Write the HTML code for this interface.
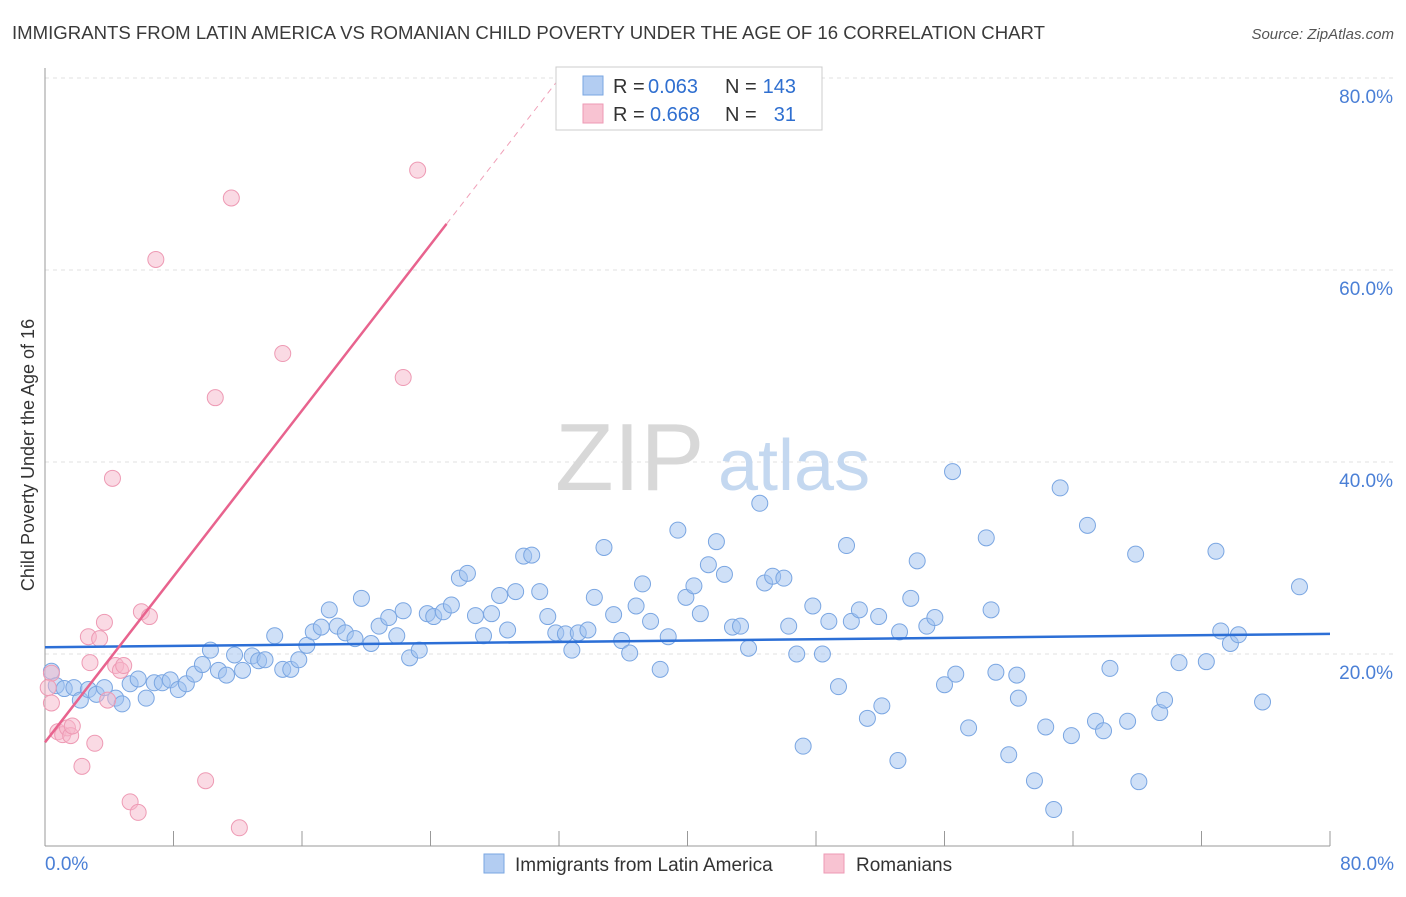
<!DOCTYPE html>
<html><head><meta charset="utf-8"><style>
body{margin:0;background:#fff;font-family:"Liberation Sans",sans-serif}
svg text{font-family:"Liberation Sans",sans-serif}
</style></head><body>
<svg id="chart" width="1406" height="892" xmlns="http://www.w3.org/2000/svg">
<text x="12" y="39" font-size="18" fill="#3a3a3a" textLength="1033" lengthAdjust="spacingAndGlyphs">IMMIGRANTS FROM LATIN AMERICA VS ROMANIAN CHILD POVERTY UNDER THE AGE OF 16 CORRELATION CHART</text>
<text x="1394" y="39" font-size="15" fill="#555" text-anchor="end" font-style="italic">Source: ZipAtlas.com</text>
<g id="grid"></g>
<g><text x="555" y="490" font-size="96" fill="#d8d8d8" font-family="Liberation Serif">ZIP</text><text x="718" y="490" font-size="72" fill="#c4d8f0">atlas</text></g>
<g id="axes"></g>
<g id="pts"></g>
<g id="trend"></g>
<text transform="translate(34,455) rotate(-90)" font-size="18" fill="#333" text-anchor="middle">Child Poverty Under the Age of 16</text>
<g>
<rect x="556" y="67" width="266" height="63" fill="#fff" stroke="#ccc"/>
<rect x="583" y="76" width="20" height="19" fill="#b3cdf2" stroke="#7aa6e2"/>
<rect x="583" y="104" width="20" height="19" fill="#f8c3d2" stroke="#ee9ab4"/>
<text x="613" y="93" font-size="20" fill="#333">R =</text>
<text x="648" y="93" font-size="20" fill="#2f6fd0">0.063</text>
<text x="725" y="93" font-size="20" fill="#333">N =</text>
<text x="796" y="93" font-size="20" fill="#2f6fd0" text-anchor="end">143</text>
<text x="613" y="121" font-size="20" fill="#333">R =</text>
<text x="650" y="121" font-size="20" fill="#2f6fd0">0.668</text>
<text x="725" y="121" font-size="20" fill="#333">N =</text>
<text x="796" y="121" font-size="20" fill="#2f6fd0" text-anchor="end">31</text>
</g>
<g>
<rect x="484" y="854" width="20" height="19" fill="#b3cdf2" stroke="#7aa6e2"/>
<text x="515" y="871" font-size="19" fill="#333">Immigrants from Latin America</text>
<rect x="824" y="854" width="20" height="19" fill="#f8c3d2" stroke="#ee9ab4"/>
<text x="856" y="871" font-size="19" fill="#333">Romanians</text>
</g>
</svg>
<script>
const blueX=[0.4,0.7,1.2,1.8,2.2,2.7,3.2,3.7,4.4,4.8,5.3,5.8,6.3,6.8,7.3,7.8,8.3,8.8,9.3,9.8,10.3,10.8,11.3,11.8,12.3,12.9,13.3,13.7,14.3,14.8,15.3,15.8,16.3,16.7,17.2,17.7,18.2,18.7,19.3,19.7,20.3,20.8,21.4,21.9,22.3,22.7,23.3,23.8,24.2,24.8,25.3,25.8,26.3,26.8,27.3,27.8,28.3,28.8,29.3,29.8,30.3,30.8,31.3,31.8,32.4,32.8,33.2,33.8,34.2,34.8,35.4,35.9,36.4,36.8,37.2,37.7,38.3,38.8,39.4,39.9,40.4,40.8,41.3,41.8,42.3,42.8,43.3,43.8,44.5,44.8,45.3,46.0,46.3,46.8,47.2,47.8,48.4,48.8,49.4,49.9,50.2,50.7,51.2,51.9,52.1,53.1,53.2,53.9,54.3,54.9,55.4,56.0,56.5,56.7,57.5,58.6,58.9,59.2,60.0,60.5,60.6,61.6,62.3,62.8,63.2,63.9,64.9,65.4,65.9,66.3,67.4,67.9,68.1,69.4,69.7,70.6,72.3,72.9,73.2,73.8,74.3,75.8,78.1];
const blueY=[18.2,16.7,16.4,16.5,15.2,16.3,15.8,16.5,15.4,14.8,16.9,17.4,15.4,17.0,17.0,17.3,16.3,16.9,17.9,18.9,20.4,18.3,17.8,19.9,18.3,19.8,19.3,19.4,21.9,18.4,18.4,19.4,20.9,22.3,22.8,24.6,22.9,22.2,21.6,25.8,21.1,22.9,23.8,21.9,24.5,19.6,20.4,24.2,23.9,24.4,25.1,27.9,28.4,24.0,21.9,24.2,26.1,22.5,26.5,30.2,30.3,26.5,23.9,22.2,22.1,20.4,22.2,22.5,25.9,31.1,24.1,21.4,20.1,25.0,27.3,23.4,18.4,21.8,32.9,25.9,27.1,24.2,29.3,31.7,28.3,22.8,22.9,20.6,35.7,27.4,28.1,27.9,22.9,20.0,10.4,25.0,20.0,23.4,16.6,31.3,23.4,24.6,13.3,23.9,14.6,8.9,22.3,25.8,29.7,22.9,23.8,16.8,39.0,17.9,12.3,32.1,24.6,18.1,9.5,17.8,15.4,6.8,12.4,3.8,37.3,11.5,33.4,13.0,12.0,18.5,13.0,30.4,6.7,13.9,15.2,19.1,19.2,30.7,22.4,21.1,22.0,15.0,27.0];
const pinkX=[0.4,0.2,0.4,0.8,1.1,1.4,1.6,1.7,2.3,2.7,2.8,3.1,3.4,3.7,3.9,4.2,4.4,4.7,4.9,5.3,5.8,6.0,6.5,6.9,10.0,10.6,11.6,12.1,14.8,22.3,23.2];
const pinkY=[18.0,16.5,14.9,11.9,11.6,12.3,11.5,12.5,8.3,21.8,19.1,10.7,21.6,23.3,15.2,38.3,18.8,18.3,18.8,4.6,3.5,24.4,23.9,61.1,6.8,46.7,67.5,1.9,51.3,48.8,70.4];
const blueTrend=[20.7,22.1];
const pinkTrend=[10.8,2.16];
const yTicks=[20,40,60,80];
const xTickLabels=["0.0%","80.0%"];

const X=v=>45+v*1285/80, Y=v=>846-v*9.6;
const NS="http://www.w3.org/2000/svg";
function mk(tag,attrs,parent){const e=document.createElementNS(NS,tag);for(const k in attrs)e.setAttribute(k,attrs[k]);parent.appendChild(e);return e;}
const grid=document.getElementById('grid'),axes=document.getElementById('axes'),pts=document.getElementById('pts'),tr=document.getElementById('trend');
yTicks.forEach(t=>{
 const l=mk('line',{x1:45,x2:1394,y1:Y(t),y2:Y(t),stroke:'#e2e2e2','stroke-dasharray':'4,4'},grid);
 
 
 const tx=mk('text',{x:1393,y:Y(t)+25,'font-size':19,fill:'#4a7fd6','text-anchor':'end'},axes);
 tx.textContent=t.toFixed(1)+'%';
 
 
});
const ax=mk('line',{x1:45,x2:1330,y1:846,y2:846,stroke:'#999'},axes);


const ay=mk('line',{x1:45,x2:45,y1:68,y2:846,stroke:'#999'},axes);


for(let i=0;i<=10;i++){const t=mk('line',{x1:X(i*8),x2:X(i*8),y1:831,y2:846,stroke:'#999'},axes);
 
 }
[[0,'start',45],[80,'end',1394]].forEach((d,i)=>{const t=mk('text',{x:d[2],y:870,'font-size':19,fill:'#4a7fd6','text-anchor':d[1]},axes);t.textContent=xTickLabels[i];
 
 });
blueX.forEach((x,i)=>{const c=mk('circle',{cx:X(x),cy:Y(blueY[i]),r:8,fill:'rgba(160,193,240,0.5)',stroke:'#7aa6e2','stroke-width':1},pts);
 
 });
pinkX.forEach((x,i)=>{const c=mk('circle',{cx:X(x),cy:Y(pinkY[i]),r:8,fill:'rgba(246,182,202,0.5)',stroke:'#ee9ab4','stroke-width':1},pts);
 
 });
const bl=mk('line',{x1:X(0),y1:Y(blueTrend[0]),x2:X(80),y2:Y(blueTrend[1]),stroke:'#2c6fd6','stroke-width':2.5},tr);


const pe=25, pend=(80-pinkTrend[0])/pinkTrend[1];
const pl=mk('line',{x1:X(0),y1:Y(pinkTrend[0]),x2:X(pe),y2:Y(pinkTrend[0]+pinkTrend[1]*pe),stroke:'#e8638e','stroke-width':2.5},tr);


const pd=mk('line',{x1:X(pe),y1:Y(pinkTrend[0]+pinkTrend[1]*pe),x2:X(pend),y2:Y(80),stroke:'#f0a0b8','stroke-width':1,'stroke-dasharray':'6,5'},tr);


</script>
</body></html>
